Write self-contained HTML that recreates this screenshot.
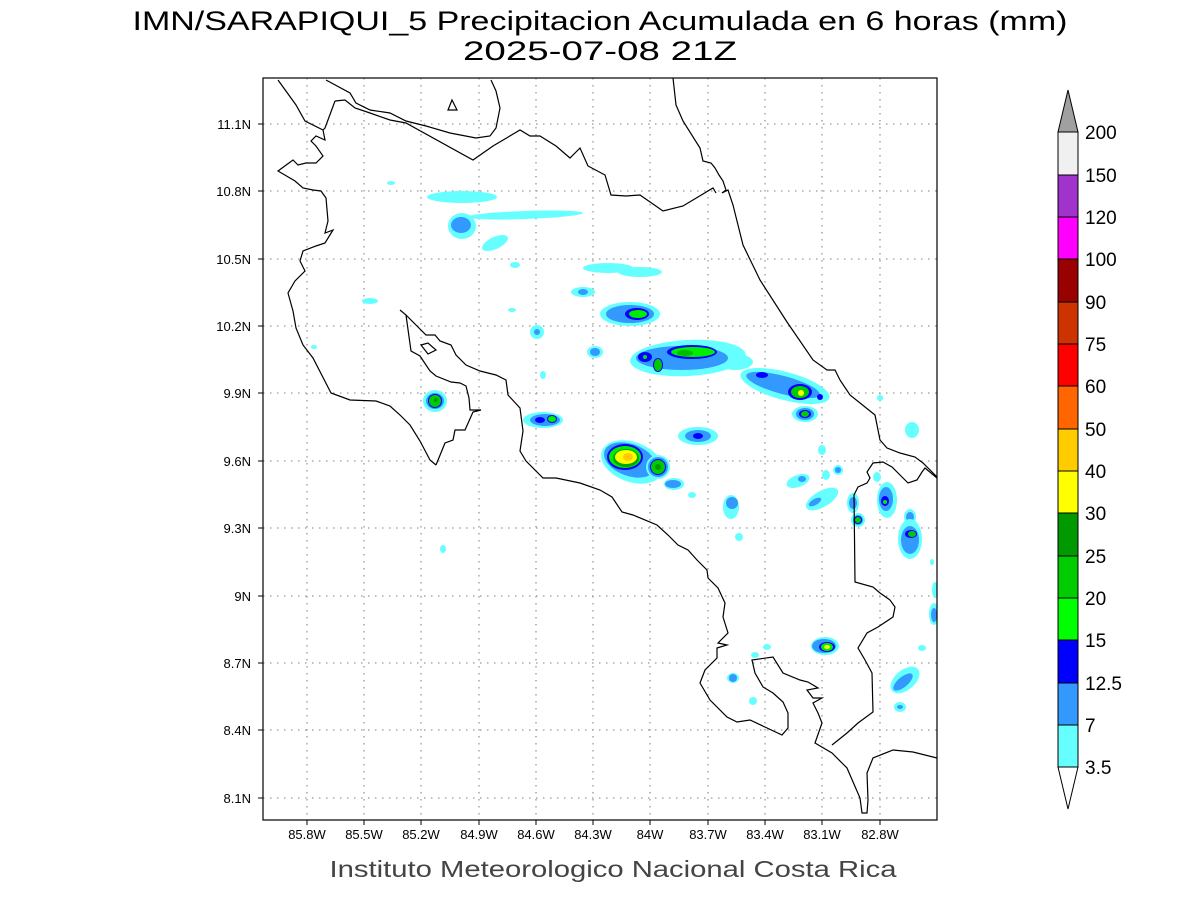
<!DOCTYPE html>
<html><head><meta charset="utf-8"><style>html,body{margin:0;padding:0;background:#fff}svg{display:block}</style></head><body>
<svg width="1200" height="900" viewBox="0 0 1200 900" xmlns="http://www.w3.org/2000/svg" font-family="Liberation Sans, sans-serif">
<rect width="1200" height="900" fill="#fff"/>
<text x="600" y="30" font-size="27" text-anchor="middle" textLength="935" lengthAdjust="spacingAndGlyphs">IMN/SARAPIQUI_5 Precipitacion Acumulada en 6 horas (mm)</text>
<text x="600" y="60" font-size="27" text-anchor="middle" textLength="274" lengthAdjust="spacingAndGlyphs">2025-07-08 21Z</text>
<defs><clipPath id="c"><rect x="263" y="78" width="674" height="742"/></clipPath></defs>
<g clip-path="url(#c)">
<g stroke="#999" stroke-width="1.3" stroke-dasharray="1.5 5.5">
<path d="M307 78V820M364 78V820M421 78V820M479 78V820M536 78V820M593 78V820M650 78V820M708 78V820M765 78V820M822 78V820M880 78V820"/>
<path d="M263 124H937M263 191H937M263 259H937M263 326H937M263 393H937M263 461H937M263 528H937M263 596H937M263 663H937M263 730H937M263 798H937"/>
</g>
<g id="rain">
<!-- cyan streaks -->
<ellipse cx="462" cy="197" rx="35" ry="6" fill="#66ffff"/>
<ellipse cx="525" cy="215" rx="58" ry="4" fill="#66ffff" transform="rotate(-2 525 215)"/>
<ellipse cx="462" cy="226" rx="14" ry="13" fill="#66ffff"/><ellipse cx="461" cy="225" rx="10" ry="8" fill="#3399ff"/>
<ellipse cx="495" cy="243" rx="14" ry="6" fill="#66ffff" transform="rotate(-25 495 243)"/>
<ellipse cx="515" cy="265" rx="5" ry="3" fill="#66ffff"/>
<ellipse cx="608" cy="268" rx="25" ry="5" fill="#66ffff"/><ellipse cx="640" cy="272" rx="22" ry="5" fill="#66ffff"/>
<ellipse cx="583" cy="292" rx="12" ry="5" fill="#66ffff"/><ellipse cx="583" cy="292" rx="5" ry="3" fill="#3399ff"/>
<ellipse cx="370" cy="301" rx="8" ry="3" fill="#66ffff"/>
<ellipse cx="391" cy="183" rx="4" ry="2" fill="#66ffff"/>
<ellipse cx="314" cy="347" rx="3" ry="2" fill="#66ffff"/>
<ellipse cx="443" cy="549" rx="3" ry="4" fill="#66ffff"/>
<ellipse cx="512" cy="310" rx="4" ry="2" fill="#66ffff"/>
<ellipse cx="543" cy="375" rx="3" ry="4" fill="#66ffff"/>
<!-- 8 -->
<ellipse cx="630" cy="314" rx="30" ry="12" fill="#66ffff"/><ellipse cx="630" cy="314" rx="24" ry="9" fill="#3399ff"/><ellipse cx="637" cy="314" rx="12" ry="6" fill="#0000ff"/><ellipse cx="638" cy="314" rx="9" ry="4" fill="#00ee00"/>
<ellipse cx="537" cy="332" rx="7" ry="7" fill="#66ffff"/><ellipse cx="537" cy="332" rx="3" ry="3" fill="#3399ff"/>
<ellipse cx="595" cy="352" rx="8" ry="6" fill="#66ffff"/><ellipse cx="595" cy="352" rx="5" ry="4" fill="#3399ff"/>
<!-- 11 big -->
<ellipse cx="688" cy="358" rx="58" ry="18" fill="#66ffff" transform="rotate(-3 688 358)"/>
<ellipse cx="735" cy="362" rx="18" ry="8" fill="#66ffff"/>
<ellipse cx="682" cy="358" rx="46" ry="12" fill="#3399ff"/>
<ellipse cx="692" cy="352" rx="25" ry="7" fill="#0000ff"/><ellipse cx="693" cy="352" rx="22" ry="5" fill="#00ee00"/><ellipse cx="685" cy="353" rx="8" ry="3" fill="#00bb00"/>
<ellipse cx="645" cy="357" rx="7" ry="5" fill="#0000ff"/><ellipse cx="645" cy="357" rx="2" ry="2" fill="#00ee00"/>
<ellipse cx="658" cy="365" rx="5" ry="7" fill="#0000ff"/><ellipse cx="658" cy="365" rx="4" ry="6" fill="#00cc00"/>
<!-- 12 -->
<ellipse cx="785" cy="386" rx="46" ry="14" fill="#66ffff" transform="rotate(15 785 386)"/>
<ellipse cx="783" cy="385" rx="38" ry="9" fill="#3399ff" transform="rotate(15 783 385)"/>
<ellipse cx="762" cy="375" rx="6" ry="3" fill="#0000ff"/>
<ellipse cx="800" cy="392" rx="12" ry="8" fill="#0000ff"/><ellipse cx="800" cy="392" rx="9" ry="6" fill="#00cc00"/><ellipse cx="801" cy="393" rx="3" ry="3" fill="#ffff00"/>
<ellipse cx="820" cy="397" rx="3" ry="3" fill="#0000ff"/>
<ellipse cx="805" cy="414" rx="13" ry="8" fill="#66ffff"/><ellipse cx="805" cy="414" rx="9" ry="6" fill="#3399ff"/><ellipse cx="805" cy="414" rx="6" ry="4" fill="#0000ff"/><ellipse cx="805" cy="414" rx="4" ry="3" fill="#00cc00"/>
<!-- 13 -->
<ellipse cx="435" cy="401" rx="12" ry="11" fill="#66ffff"/><ellipse cx="435" cy="401" rx="9" ry="8" fill="#3399ff"/><ellipse cx="435" cy="401" rx="7" ry="7" fill="#0000ff"/><ellipse cx="435" cy="401" rx="6" ry="6" fill="#00cc00"/><ellipse cx="436" cy="400" rx="2" ry="2" fill="#009900"/>
<!-- 14 -->
<ellipse cx="543" cy="420" rx="20" ry="8" fill="#66ffff"/><ellipse cx="545" cy="420" rx="15" ry="6" fill="#3399ff"/><ellipse cx="540" cy="420" rx="5" ry="3" fill="#0000ff"/><ellipse cx="552" cy="419" rx="5" ry="4" fill="#0000ff"/><ellipse cx="552" cy="419" rx="4" ry="3" fill="#00ee00"/>
<!-- 15 -->
<ellipse cx="698" cy="436" rx="20" ry="9" fill="#66ffff"/><ellipse cx="698" cy="436" rx="13" ry="6" fill="#3399ff"/><ellipse cx="698" cy="436" rx="5" ry="3" fill="#0000ff"/>
<!-- 16 -->
<ellipse cx="632" cy="462" rx="32" ry="20" fill="#66ffff" transform="rotate(20 632 462)"/>
<ellipse cx="630" cy="460" rx="27" ry="16" fill="#3399ff" transform="rotate(20 630 460)"/>
<ellipse cx="625" cy="457" rx="18" ry="13" fill="#0000ff"/><ellipse cx="625" cy="457" rx="16" ry="11" fill="#00ee00"/><ellipse cx="626" cy="458" rx="13" ry="9" fill="#00aa00"/><ellipse cx="626" cy="457" rx="11" ry="7" fill="#ffff00"/><ellipse cx="628" cy="457" rx="5" ry="4" fill="#ffcc00"/>
<ellipse cx="658" cy="467" rx="12" ry="12" fill="#66ffff"/><ellipse cx="658" cy="467" rx="10" ry="10" fill="#3399ff"/><ellipse cx="658" cy="467" rx="8" ry="8" fill="#0000ff"/><ellipse cx="658" cy="467" rx="7" ry="7" fill="#00cc00"/><ellipse cx="658" cy="467" rx="3" ry="3" fill="#009900"/>
<ellipse cx="674" cy="484" rx="10" ry="6" fill="#66ffff"/><ellipse cx="673" cy="484" rx="8" ry="4" fill="#3399ff"/>
<ellipse cx="692" cy="495" rx="4" ry="3" fill="#66ffff"/>
<ellipse cx="731" cy="507" rx="8" ry="12" fill="#66ffff"/><ellipse cx="732" cy="503" rx="6" ry="6" fill="#3399ff"/>
<ellipse cx="739" cy="537" rx="4" ry="4" fill="#66ffff"/>
<!-- right side -->
<ellipse cx="822" cy="450" rx="4" ry="5" fill="#66ffff"/>
<ellipse cx="826" cy="475" rx="4" ry="5" fill="#66ffff"/>
<ellipse cx="838" cy="470" rx="5" ry="5" fill="#66ffff"/><ellipse cx="838" cy="470" rx="3" ry="3" fill="#3399ff"/>
<ellipse cx="798" cy="481" rx="12" ry="6" fill="#66ffff" transform="rotate(-20 798 481)"/><ellipse cx="802" cy="479" rx="4" ry="3" fill="#3399ff"/>
<ellipse cx="822" cy="499" rx="18" ry="8" fill="#66ffff" transform="rotate(-30 822 499)"/><ellipse cx="815" cy="502" rx="7" ry="3" fill="#3399ff" transform="rotate(-30 815 502)"/>
<ellipse cx="853" cy="503" rx="6" ry="10" fill="#66ffff"/><ellipse cx="853" cy="503" rx="4" ry="6" fill="#3399ff"/>
<ellipse cx="858" cy="520" rx="7" ry="7" fill="#66ffff"/><ellipse cx="858" cy="520" rx="5" ry="5" fill="#3399ff"/><ellipse cx="858" cy="520" rx="4" ry="4" fill="#0000ff"/><ellipse cx="858" cy="520" rx="3" ry="3" fill="#00cc00"/>
<ellipse cx="887" cy="500" rx="10" ry="18" fill="#66ffff"/><ellipse cx="886" cy="499" rx="7" ry="12" fill="#3399ff"/><ellipse cx="885" cy="501" rx="4" ry="5" fill="#0000ff"/><ellipse cx="885" cy="502" rx="2" ry="2" fill="#00ee00"/>
<ellipse cx="877" cy="477" rx="4" ry="5" fill="#66ffff"/>
<ellipse cx="910" cy="517" rx="6" ry="8" fill="#66ffff"/><ellipse cx="910" cy="517" rx="4" ry="5" fill="#3399ff"/>
<ellipse cx="910" cy="539" rx="12" ry="20" fill="#66ffff"/><ellipse cx="910" cy="540" rx="9" ry="14" fill="#3399ff"/><ellipse cx="911" cy="534" rx="6" ry="4" fill="#0000ff"/><ellipse cx="912" cy="534" rx="4" ry="3" fill="#00cc00"/>
<ellipse cx="912" cy="430" rx="7" ry="8" fill="#66ffff"/>
<ellipse cx="880" cy="398" rx="3" ry="3" fill="#66ffff"/>
<ellipse cx="935" cy="590" rx="3" ry="8" fill="#66ffff"/>
<ellipse cx="934" cy="614" rx="5" ry="11" fill="#66ffff"/><ellipse cx="934" cy="615" rx="3" ry="7" fill="#3399ff"/>
<ellipse cx="932" cy="562" rx="2" ry="3" fill="#66ffff"/>
<ellipse cx="922" cy="648" rx="4" ry="3" fill="#66ffff"/>
<ellipse cx="905" cy="680" rx="17" ry="10" fill="#66ffff" transform="rotate(-40 905 680)"/><ellipse cx="903" cy="682" rx="12" ry="5" fill="#3399ff" transform="rotate(-40 903 682)"/>
<ellipse cx="900" cy="707" rx="6" ry="5" fill="#66ffff"/><ellipse cx="900" cy="707" rx="3" ry="2" fill="#3399ff"/>
<ellipse cx="825" cy="646" rx="14" ry="9" fill="#66ffff"/><ellipse cx="824" cy="646" rx="12" ry="7" fill="#3399ff"/><ellipse cx="827" cy="647" rx="8" ry="5" fill="#0000ff"/><ellipse cx="827" cy="647" rx="6" ry="4" fill="#00ee00"/><ellipse cx="827" cy="647" rx="3" ry="2" fill="#ffff00"/>
<ellipse cx="733" cy="678" rx="6" ry="5" fill="#66ffff"/><ellipse cx="733" cy="678" rx="4" ry="4" fill="#3399ff"/>
<ellipse cx="753" cy="701" rx="4" ry="4" fill="#66ffff"/>
<ellipse cx="755" cy="655" rx="4" ry="3" fill="#66ffff"/>
<ellipse cx="767" cy="647" rx="4" ry="3" fill="#66ffff"/>
</g>
<g fill="none" stroke="#000" stroke-width="1.2">
<path d="M436 465L430 460L420 441L410 425L400 415L390 406L376 401L350 400L331 393L313 358L303 345L296 328L293 311L288 293L295 281L305 271L300 261L303 251L316 246L325 243L333 230L325 233L328 221L326 198L321 191L313 190L303 188L295 181L278 171L293 160L298 165L306 163L316 163L323 156L316 146L311 141L316 136L325 140L323 130L305 121L296 105L278 80"/>
<path d="M436 465L445 443L453 440L455 430L465 430L473 412L481 410L470 410L469 398L466 386L460 383L451 382L436 376L430 371L420 356L411 351L406 315L400 310"/>
<path d="M406 315L426 335L435 335L440 341L451 345L456 355L466 365L480 371L496 375L506 380L508 395L520 408L523 431L520 451L526 461L543 478L556 478L580 483L600 490L612 497L622 512L633 515L657 525L668 535L678 545L688 550L697 560L707 570L708 578L718 588L725 603L723 617L728 633L718 643L727 645L717 648L717 658L705 670L700 683L710 700L727 717L737 722L750 720L782 735L788 728L788 713L783 702L773 693L763 687L755 673L752 660L773 657L783 673L800 680L808 682L818 688L807 690L813 698L822 698L813 703L818 713L822 723L815 743L832 753L847 768L860 798L862 813L867 813L868 800L867 773L873 758L893 750L913 752L937 758"/>
<path d="M832 745L847 733L858 723L873 712L872 673L865 660L858 648L867 633L878 627L893 617L895 607L890 600L880 593L873 587L855 582L854 495L858 487L867 483L870 478L867 472L873 463L883 462L892 467L900 475L908 483L917 480L922 472L925 468L937 478"/>
<path d="M421 345L428 343L436 350L428 354Z"/>
<path d="M326 80L350 93L356 103L370 110L390 113L406 121L426 126L450 133L476 138L490 136L496 128L500 108L496 91L491 80"/>
<path d="M335 101L345 100L355 108L370 113L390 120L406 123L473 160L493 146L520 130L530 136L540 136L556 146L570 158L580 148L588 166L605 175L611 195L626 196L640 195L663 211L683 206L713 188L716 193"/>
<path d="M335 101L325 128L323 130"/>
<path d="M673 78L676 105L683 121L700 148L703 161L711 163L715 168L719 175L723 181L726 190L722 193L728 190L733 205L743 245L760 280L787 322L813 360L827 370L835 370L840 380L850 395L875 415L880 440L887 448L900 453L915 457L923 463L937 477"/>
<path d="M448 110L452 100L457 110Z"/>
</g>
</g>
<rect x="263" y="78" width="674" height="742" fill="none" stroke="#000" stroke-width="1.2"/>
<g stroke="#000" stroke-width="1">
<path d="M307 820v5M364 820v5M421 820v5M479 820v5M536 820v5M593 820v5M650 820v5M708 820v5M765 820v5M822 820v5M880 820v5"/>
<path d="M263 124h-5M263 191h-5M263 259h-5M263 326h-5M263 393h-5M263 461h-5M263 528h-5M263 596h-5M263 663h-5M263 730h-5M263 798h-5"/>
</g>
<g font-size="13" text-anchor="middle">
<text x="307" y="839">85.8W</text><text x="364" y="839">85.5W</text><text x="421" y="839">85.2W</text><text x="479" y="839">84.9W</text><text x="536" y="839">84.6W</text><text x="593" y="839">84.3W</text><text x="650" y="839">84W</text><text x="708" y="839">83.7W</text><text x="765" y="839">83.4W</text><text x="822" y="839">83.1W</text><text x="880" y="839">82.8W</text>
</g>
<g font-size="13" text-anchor="end">
<text x="251" y="129">11.1N</text><text x="251" y="196">10.8N</text><text x="251" y="264">10.5N</text><text x="251" y="331">10.2N</text><text x="251" y="398">9.9N</text><text x="251" y="466">9.6N</text><text x="251" y="533">9.3N</text><text x="251" y="601">9N</text><text x="251" y="668">8.7N</text><text x="251" y="735">8.4N</text><text x="251" y="803">8.1N</text>
</g>
<text x="613" y="877" font-size="23" fill="#444" text-anchor="middle" textLength="567" lengthAdjust="spacingAndGlyphs">Instituto Meteorologico Nacional Costa Rica</text>
<!-- colorbar -->
<g stroke="#000" stroke-width="1">
<path d="M1058 132L1068 90L1078 132Z" fill="#a0a0a0"/>
<rect x="1058" y="132" width="20" height="43" fill="#f0f0f0"/>
<rect x="1058" y="175" width="20" height="42" fill="#a033cc"/>
<rect x="1058" y="217" width="20" height="42" fill="#ff00ff"/>
<rect x="1058" y="259" width="20" height="43" fill="#990000"/>
<rect x="1058" y="302" width="20" height="42" fill="#cc3300"/>
<rect x="1058" y="344" width="20" height="42" fill="#ff0000"/>
<rect x="1058" y="386" width="20" height="43" fill="#ff6600"/>
<rect x="1058" y="429" width="20" height="42" fill="#ffcc00"/>
<rect x="1058" y="471" width="20" height="42" fill="#ffff00"/>
<rect x="1058" y="513" width="20" height="43" fill="#009900"/>
<rect x="1058" y="556" width="20" height="42" fill="#00cc00"/>
<rect x="1058" y="598" width="20" height="42" fill="#00ff00"/>
<rect x="1058" y="640" width="20" height="43" fill="#0000ff"/>
<rect x="1058" y="683" width="20" height="42" fill="#3399ff"/>
<rect x="1058" y="725" width="20" height="42" fill="#66ffff"/>
<path d="M1058 767L1068 809L1078 767Z" fill="#fff"/>
</g>
<g font-size="19">
<text x="1085" y="139">200</text><text x="1085" y="182">150</text><text x="1085" y="224">120</text><text x="1085" y="266">100</text><text x="1085" y="309">90</text><text x="1085" y="351">75</text><text x="1085" y="393">60</text><text x="1085" y="436">50</text><text x="1085" y="478">40</text><text x="1085" y="520">30</text><text x="1085" y="563">25</text><text x="1085" y="605">20</text><text x="1085" y="647">15</text><text x="1085" y="690">12.5</text><text x="1085" y="732">7</text><text x="1085" y="774">3.5</text>
</g>
</svg>
</body></html>
